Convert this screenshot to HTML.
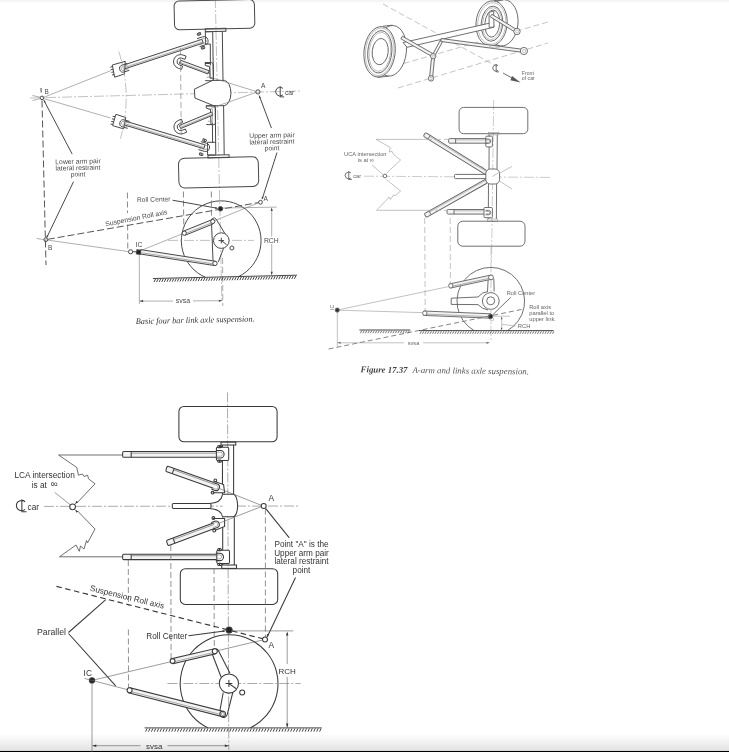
<!DOCTYPE html>
<html><head><meta charset="utf-8"><style>
html,body{margin:0;padding:0;background:#fff;width:729px;height:752px;overflow:hidden}
svg{display:block;position:absolute;left:0;top:0;will-change:transform;filter:blur(0.3px)}
.s{stroke:#484848;stroke-width:1.0;fill:none}
.wf{fill:#fff !important}
.gf{fill:#f3f3f3 !important}
.t{stroke:#7a7a7a;stroke-width:0.6;fill:none}
.d{stroke:#555;stroke-width:1.0;fill:none;stroke-dasharray:7 3}
.dv{stroke:#7a7a7a;stroke-width:0.9;fill:none;stroke-dasharray:6 3}
.dl{stroke:#888;stroke-width:0.7;fill:none;stroke-dasharray:6 3}
.cl{stroke:#999;stroke-width:0.6;fill:none;stroke-dasharray:10 2 2 2}
.ah{fill:#444;stroke:none}
.h{stroke:#444;stroke-width:1.0;fill:none}
.tx{font-family:"Liberation Sans",sans-serif;fill:#4a4a4a}
.cap{font-family:"Liberation Serif",serif;font-style:italic;fill:#333}
.s2{stroke:#606060;stroke-width:0.9;fill:none}
.t2{stroke:#999;stroke-width:0.6;fill:none}
.tx2{font-family:"Liberation Sans",sans-serif;fill:#666}
.dl2{stroke:#aaa;stroke-width:0.7;fill:none;stroke-dasharray:6 3}
.cl2{stroke:#aaa;stroke-width:0.6;fill:none;stroke-dasharray:10 2 2 2}
.d2{stroke:#777;stroke-width:0.9;fill:none;stroke-dasharray:5 3}
.ah2{fill:#555;stroke:none}
.h2{stroke:#666;stroke-width:0.9;fill:none}
.cap2{font-family:"Liberation Serif",serif;font-style:italic;fill:#555}
.s3{stroke:#3a3a3a;stroke-width:1.05;fill:none}
.t3{stroke:#666;stroke-width:0.65;fill:none}
.d3{stroke:#777;stroke-width:0.8;fill:none;stroke-dasharray:6 3}
.d3b{stroke:#333;stroke-width:1.1;fill:none;stroke-dasharray:5.5 3.5}
.cl3{stroke:#888;stroke-width:0.7;fill:none;stroke-dasharray:10 2 2 2}
.z3{stroke:#555;stroke-width:0.85;fill:none}
.h3{stroke:#444;stroke-width:1.0;fill:none}
.ah3{fill:#333;stroke:none}
.tx3{font-family:"Liberation Sans",sans-serif;fill:#333}
.cap2b{font-family:"Liberation Serif",serif;font-style:italic;font-weight:bold;fill:#444}
</style></head><body>
<div style="position:absolute;left:0;top:0;width:729px;height:3px;background:linear-gradient(#f2f2f2,#fdfdfd)"></div>
<div style="position:absolute;left:0;top:734px;width:729px;height:16px;background:linear-gradient(#fff,#e4e4e4)"></div>
<div style="position:absolute;left:0;top:750px;width:729px;height:1px;background:#d8d8d8"></div>
<div style="position:absolute;left:0;top:751px;width:729px;height:1px;background:#000"></div>
<svg width="729" height="752" viewBox="0 0 729 752">
<line x1="215.3" y1="-2" x2="221.8" y2="300" class="cl" />
<line x1="30" y1="98" x2="300" y2="91" class="cl" />
<rect x="174.3" y="0.3" width="80.3" height="28.7" rx="5" class="s" transform="rotate(-1.3 214.45 14.65)"/>
<rect x="205.3" y="28.4" width="20.6" height="3.1" rx="0" class="s" transform="rotate(-1.3 215.6 29.95)"/>
<line x1="212.7" y1="31.5" x2="213.4" y2="80.4" class="s" />
<line x1="222.3" y1="31.5" x2="223" y2="80.4" class="s" />
<path d="M212.4,80.4 L224.5,80.4 A7.2,12.7 0 0 1 224.2,105.7 L213.6,105.7 L194.9,98 L194.4,89.2 Z" class="s wf" />
<line x1="215.2" y1="105.7" x2="215.8" y2="154.8" class="s" />
<line x1="223.6" y1="105.7" x2="224.2" y2="154.8" class="s" />
<rect x="208" y="154.9" width="21.1" height="2.9" rx="0" class="s" transform="rotate(-1.3 218.55 156.35)"/>
<rect x="178.7" y="157.4" width="79.8" height="29.8" rx="6" class="s" transform="rotate(-1.3 218.6 172.3)"/>
<polyline points="212.7,31.6 205.3,31.8 205.6,44.2 210.3,44 210.4,65.4" class="s"/>
<polyline points="210.4,63.5 205,63.5 205.3,65.5 209.5,66.5 210,78.2 213.3,78.2" class="s"/>
<polyline points="215.2,105.8 206.2,105.8 206.2,108 210.5,109.5 211,124.5 212.4,124.5" class="s"/>
<line x1="212.4" y1="122.5" x2="212.6" y2="143" class="s" />
<polyline points="215.5,142.3 207.5,142.3 207.6,155 215.6,155" class="s"/>
<polygon points="122.82,69.5 203.22,43.1 201.98,39.3 121.58,65.7" class="s gf"/>
<line x1="122.42" y1="68.27" x2="202.82" y2="41.87" class="t" />
<polygon points="179.41,63.39 208.01,73.99 209.19,70.81 180.59,60.21" class="s gf"/>
<line x1="179.79" y1="62.36" x2="208.39" y2="72.96" class="t" />
<polygon points="122.43,124.42 203.93,148.72 205.07,144.88 123.57,120.58" class="s gf"/>
<line x1="122.8" y1="123.17" x2="204.3" y2="147.47" class="t" />
<polygon points="180.65,128.57 212.95,115.17 211.65,112.03 179.35,125.43" class="s gf"/>
<line x1="180.23" y1="127.55" x2="212.53" y2="114.15" class="t" />
<path d="M197,38.66L202.7,36.81A4.2,4.2 0 0 1 205.3,44.79L199.59,46.65" class="s" />
<path d="M197.58,40.46L203.29,38.6A2.31,2.31 0 0 1 204.71,43L199.01,44.85" class="t" />
<path d="M200.84,141.57L206.59,143.27A4.2,4.2 0 0 1 204.21,151.33L198.45,149.62" class="s" />
<path d="M200.3,143.38L206.06,145.09A2.31,2.31 0 0 1 204.74,149.51L198.99,147.81" class="t" />
<rect x="197.2" y="32.9" width="3.6" height="2.2" rx="1" class="s" transform="rotate(-18 199 34)"/>
<line x1="199" y1="32.9" x2="199" y2="35.1" class="s" />
<rect x="201.2" y="46.7" width="3.6" height="2.2" rx="1" class="s" transform="rotate(-18 203 47.8)"/>
<line x1="203" y1="46.7" x2="203" y2="48.9" class="s" />
<rect x="202.8" y="139.1" width="3.6" height="2.2" rx="1" class="s" transform="rotate(16 204.6 140.2)"/>
<line x1="204.6" y1="139.1" x2="204.6" y2="141.3" class="s" />
<rect x="199.4" y="153.1" width="3.6" height="2.2" rx="1" class="s" transform="rotate(16 201.2 154.2)"/>
<line x1="201.2" y1="153.1" x2="201.2" y2="155.3" class="s" />
<path d="M204.8,62.5 L211.5,62.6 Q213.2,62.8 213.2,65 L213.4,79 Q213.4,80.8 211.5,80.8 L205.2,80.6" class="s" />
<path d="M206.4,66.0 L210.4,66.2 L210.6,77.2 L206.6,77.2" class="t" />
<path d="M206.0,105.8 L213.5,106.0 Q215.4,106.2 215.4,108 L215.5,122.8 Q215.5,124.7 213.5,124.7 L206.2,124.5" class="s" />
<path d="M207.6,109.0 L212.4,109.2 L212.6,121.4 L207.8,121.2" class="t" />
<path d="M181.53,69.36L178.22,68.22A7,7 0 0 1 182.78,54.98L186.09,56.12" class="s" />
<path d="M182.64,66.14L179.33,65A3.6,3.6 0 0 1 181.67,58.2L184.98,59.34" class="s" />
<path d="M181.53,69.36L182.64,66.14" class="s" />
<path d="M186.09,56.12L184.98,59.34" class="s" />
<path d="M186.67,132.18L183.42,133.49A7,7 0 0 1 178.18,120.51L181.42,119.2" class="s" />
<path d="M185.39,129.03L182.15,130.34A3.6,3.6 0 0 1 179.45,123.66L182.7,122.35" class="s" />
<path d="M186.67,132.18L185.39,129.03" class="s" />
<path d="M181.42,119.2L182.7,122.35" class="s" />
<polygon points="112.3,65 125.3,61.3 124.4,74 114.6,77.2" class="s wf"/>
<polygon points="115.9,114.3 125.8,117.6 123.6,128.9 112.6,125.6" class="s wf"/>
<path d="M129.34,70.32L124.11,72.02A3.6,3.6 0 0 1 121.89,65.18L127.12,63.48" class="s" />
<path d="M128.84,68.78L123.61,70.48A1.98,1.98 0 0 1 122.39,66.72L127.62,65.02" class="t" />
<path d="M127.73,128.35L122.43,126.87A3.6,3.6 0 0 1 124.37,119.93L129.67,121.41" class="s" />
<path d="M128.16,126.79L122.87,125.31A1.98,1.98 0 0 1 123.93,121.49L129.23,122.97" class="t" />
<path d="M112.6,66.6 l-2.4,0.6 M113.2,69.2 l-2.4,0.6 M113.8,71.8 l-2.4,0.6 M114.4,74.4 l-2.4,0.6" class="s" />
<path d="M115.0,116.6 l-2.4,-0.3 M114.3,119.2 l-2.4,-0.3 M113.6,121.8 l-2.4,-0.3 M112.9,124.4 l-2.4,-0.3" class="s" />
<path d="M118.8,51.5 A148.8,148.8 0 0 1 120.4,138.8" class="cl" />
<line x1="180.5" y1="48" x2="181.2" y2="136" class="dl" />
<circle cx="42" cy="97.9" r="1.8" class="s"/>
<line x1="43.7" y1="97.3" x2="110.5" y2="70.8" class="t" />
<line x1="43.7" y1="98.5" x2="110.6" y2="118" class="t" />
<line x1="32.5" y1="95.5" x2="40.3" y2="97.3" class="t" />
<line x1="32.5" y1="100.5" x2="40.3" y2="98.6" class="t" />
<text x="44.6" y="93.6" font-size="6.4" text-anchor="start" class="tx" >B</text>
<circle cx="257.9" cy="91.9" r="2.1" class="s"/>
<line x1="255.9" y1="91.4" x2="209.5" y2="77" class="t" />
<line x1="255.9" y1="92.5" x2="210.5" y2="108.4" class="t" />
<text x="261" y="88.2" font-size="6.6" text-anchor="start" class="tx" >A</text>
<text x="285" y="95" font-size="6.6" text-anchor="start" class="tx" >car</text>
<path d="M282.94,88.33A4.4,4.4 0 1 0 282.94,94.87M280.22,86.32L280.22,96.88L284.18,96.88" class="s" />
<text x="272" y="137.6" font-size="6.8" text-anchor="middle" class="tx" transform="rotate(-1.3 272 137.6)" >Upper arm pair</text>
<text x="272" y="144" font-size="6.8" text-anchor="middle" class="tx" transform="rotate(-1.3 272 144)" >lateral restraint</text>
<text x="272" y="150.4" font-size="6.8" text-anchor="middle" class="tx" transform="rotate(-1.3 272 150.4)" >point</text>
<line x1="271.4" y1="128" x2="259.2" y2="95.6" class="s" />
<polygon points="259,95.2 260.92,97.68 259.23,98.32" class="ah"/>
<line x1="277" y1="152.5" x2="262.2" y2="199" class="s" />
<polygon points="261.8,199.6 261.87,196.47 263.58,197.02" class="ah"/>
<line x1="41" y1="88" x2="41.2" y2="92.5" class="s" />
<line x1="42" y1="100.5" x2="46" y2="265" class="d" />
<text x="78" y="163.7" font-size="6.8" text-anchor="middle" class="tx" transform="rotate(-1.3 78 163.7)" >Lower arm pair</text>
<text x="78" y="170.1" font-size="6.8" text-anchor="middle" class="tx" transform="rotate(-1.3 78 170.1)" >lateral restraint</text>
<text x="78" y="176.5" font-size="6.8" text-anchor="middle" class="tx" transform="rotate(-1.3 78 176.5)" >point</text>
<line x1="43.8" y1="100.2" x2="72.2" y2="154.1" class="s" />
<polygon points="43.6,99.8 45.8,102.03 44.2,102.87" class="ah"/>
<line x1="73.5" y1="181.7" x2="46.8" y2="237.5" class="s" />
<polygon points="46.4,238.2 46.88,235.1 48.5,235.88" class="ah"/>
<circle cx="45.8" cy="239.7" r="1.9" class="s"/>
<text x="48" y="249.6" font-size="6.6" text-anchor="start" class="tx" >B</text>
<line x1="47.8" y1="239.3" x2="258.5" y2="202.6" class="d" />
<circle cx="260.5" cy="202.3" r="1.9" class="s"/>
<text x="263.5" y="200.8" font-size="6.6" text-anchor="start" class="tx" >A</text>
<line x1="36.5" y1="238.5" x2="128.4" y2="251.6" class="t" />
<line x1="141" y1="250.5" x2="258.6" y2="202.8" class="t" />
<path d="M205.43,277.3A39.85,39.85 0 1 1 238.63,276.54" class="s" />
<line x1="168" y1="240.4" x2="254" y2="240.4" class="cl" />
<path d="M211.5,222.5 L213.0,260.5 M216.2,219.2 L228.8,240 M223.6,248.3 L218.3,262" class="s" />
<path d="M211.5,222.5 A2.6,2.6 0 0 1 216.2,219.2" class="s" />
<circle cx="221.3" cy="240.6" r="7.8" class="s wf"/>
<path d="M218.5,240.6 h5.6 M221.3,237.8 v5.6 M221.3,240.6 L226.6,244.6" class="s" />
<circle cx="231.9" cy="248" r="2" class="s"/>
<polygon points="185.12,235.24 213.12,223.94 211.48,219.86 183.48,231.16" class="s gf"/>
<line x1="184.59" y1="233.91" x2="212.59" y2="222.61" class="t" />
<circle cx="184.3" cy="233.2" r="2.1" class="s wf"/>
<circle cx="212.8" cy="221.5" r="2.1" class="s wf"/>
<polygon points="140.06,253.97 214.66,265.57 215.34,261.23 140.74,249.63" class="s gf"/>
<line x1="140.28" y1="252.56" x2="214.88" y2="264.16" class="t" />
<circle cx="215" cy="263.4" r="2.2" class="s wf"/>
<circle cx="130.6" cy="251.8" r="2.1" class="s wf"/>
<line x1="132.7" y1="251.8" x2="136.6" y2="251.8" class="s" />
<rect x="136.6" y="250" width="4" height="4.2" rx="0" class="s" transform="rotate(8 138.6 252.1)" style="fill:#222"/>
<text x="135.6" y="247.4" font-size="6.8" text-anchor="start" class="tx" >IC</text>
<line x1="127.4" y1="192.5" x2="127.5" y2="213" class="dv" />
<line x1="127.6" y1="224.5" x2="127.8" y2="249" class="dv" />
<line x1="183.4" y1="191.5" x2="183.8" y2="228" class="dv" />
<line x1="211.3" y1="191.5" x2="211.5" y2="218" class="dv" />
<line x1="222.6" y1="258" x2="222.8" y2="306" class="dl" />
<circle cx="220.5" cy="208.8" r="2.2" class="s" style="fill:#222"/>
<text x="137" y="202" font-size="6.7" text-anchor="start" class="tx" transform="rotate(-1.3 137 202)" >Roll Center</text>
<line x1="172.5" y1="200.2" x2="217" y2="208.2" class="s" />
<polygon points="218.3,208.4 214.98,208.78 215.32,206.89" class="ah"/>
<line x1="222.8" y1="208" x2="276.6" y2="207.1" class="t" />
<line x1="271.7" y1="208.5" x2="271.7" y2="236.5" class="t" />
<line x1="271.7" y1="244" x2="271.7" y2="274.5" class="t" />
<polygon points="271.7,207.6 272.75,211.1 270.65,211.1" class="ah"/>
<polygon points="271.7,275.3 270.65,271.8 272.75,271.8" class="ah"/>
<text x="271.3" y="242.7" font-size="6.8" text-anchor="middle" class="tx" >RCH</text>
<path d="M152.9,278.5 L297,275.2" class="s" />
<path d="M155.5,278.97L154,282.07M158.1,278.92L156.6,282.02M160.7,278.86L159.2,281.96M163.3,278.8L161.8,281.9M165.9,278.74L164.4,281.84M168.5,278.68L167,281.78M171.1,278.62L169.6,281.72M173.7,278.56L172.2,281.66M176.3,278.5L174.8,281.6M178.9,278.44L177.4,281.54M181.5,278.38L180,281.48M184.1,278.32L182.6,281.42M186.7,278.26L185.2,281.36M189.3,278.2L187.8,281.3M191.9,278.14L190.4,281.24M194.5,278.08L193,281.18M197.1,278.02L195.6,281.12M199.7,277.96L198.2,281.06M202.3,277.9L200.8,281M204.9,277.84L203.4,280.94M207.5,277.78L206,280.88M210.1,277.72L208.6,280.82M212.7,277.66L211.2,280.76M215.3,277.61L213.8,280.71M217.9,277.55L216.4,280.65M220.5,277.49L219,280.59M223.1,277.43L221.6,280.53M225.7,277.37L224.2,280.47M228.3,277.31L226.8,280.41M230.9,277.25L229.4,280.35M233.5,277.19L232,280.29M236.1,277.13L234.6,280.23M238.7,277.07L237.2,280.17M241.3,277.01L239.8,280.11M243.9,276.95L242.4,280.05M246.5,276.89L245,279.99M249.1,276.83L247.6,279.93M251.7,276.77L250.2,279.87M254.3,276.71L252.8,279.81M256.9,276.65L255.4,279.75M259.5,276.59L258,279.69M262.1,276.53L260.6,279.63M264.7,276.47L263.2,279.57M267.3,276.41L265.8,279.51M269.9,276.36L268.4,279.46M272.5,276.3L271,279.4M275.1,276.24L273.6,279.34M277.7,276.18L276.2,279.28M280.3,276.12L278.8,279.22M282.9,276.06L281.4,279.16M285.5,276L284,279.1M288.1,275.94L286.6,279.04M290.7,275.88L289.2,278.98M293.3,275.82L291.8,278.92M295.9,275.76L294.4,278.86" class="h" />
<line x1="139.3" y1="254.5" x2="139.4" y2="304" class="t" />
<line x1="139.6" y1="301.1" x2="173" y2="301.1" class="t" />
<line x1="193" y1="300.9" x2="222.4" y2="300.7" class="t" />
<polygon points="139.6,301.1 143.1,300.05 143.1,302.15" class="ah"/>
<polygon points="222.4,300.7 218.9,301.75 218.9,299.65" class="ah"/>
<text x="183" y="302.8" font-size="7" text-anchor="middle" class="tx" >svsa</text>
<text x="105.8" y="226.3" font-size="6.8" text-anchor="start" class="tx" transform="rotate(-11.2 105.8 226.3)" >Suspension Roll axis</text>
<text x="135.8" y="324" font-size="8.3" text-anchor="start" class="cap" transform="rotate(-1.2 135.8 324)" >Basic four bar link axle suspension.</text>
<line x1="383" y1="4" x2="497" y2="66.5" class="dl2" />
<line x1="503" y1="73" x2="513" y2="78.6" class="s2" />
<polygon points="520.5,82.6 512,76 510.5,80.2" class="ah2"/>
<line x1="395" y1="66" x2="548" y2="22" class="dl2" />
<line x1="398" y1="88" x2="548" y2="43" class="dl2" />
<ellipse cx="390.8" cy="50.8" rx="15.6" ry="25.4" class="s2 wf" transform="rotate(6 390.8 50.8)"/>
<path d="M383,26.2 L392.5,25.2 M377.5,77.4 L388.5,76.2" class="s2" />
<ellipse cx="379.6" cy="51.8" rx="15.6" ry="25.3" class="s2 wf" transform="rotate(6 379.6 51.8)"/>
<ellipse cx="379.7" cy="51.8" rx="14.2" ry="23.8" class="t2" transform="rotate(6 379.7 51.8)"/>
<ellipse cx="379.8" cy="51.8" rx="12" ry="21.2" class="s2" transform="rotate(6 379.8 51.8)"/>
<ellipse cx="379.9" cy="51.8" rx="10.8" ry="19.6" class="t2" transform="rotate(6 379.9 51.8)"/>
<ellipse cx="380.2" cy="51.6" rx="8" ry="13.2" class="s2" transform="rotate(6 380.2 51.6)"/>
<ellipse cx="502.6" cy="22.8" rx="15.4" ry="23.2" class="s2 wf" transform="rotate(5 502.6 22.8)"/>
<path d="M494,0.6 L503,0 M489.5,46.2 L499,45.8" class="s2" />
<ellipse cx="491.6" cy="23.4" rx="15.6" ry="22.6" class="s2 wf" transform="rotate(5 491.6 23.4)"/>
<ellipse cx="491.8" cy="23.5" rx="14" ry="20.8" class="t2" transform="rotate(5 491.8 23.5)"/>
<ellipse cx="492" cy="23.7" rx="10.8" ry="17.6" class="s2" transform="rotate(5 492 23.7)"/>
<ellipse cx="492.1" cy="23.7" rx="9.6" ry="16" class="t2" transform="rotate(5 492.1 23.7)"/>
<ellipse cx="492.3" cy="23.6" rx="7.4" ry="13.6" class="s2" transform="rotate(5 492.3 23.6)"/>
<polygon points="403,42.5 493,22.4 494,27.2 407.1,47.3" class="s2 wf"/>
<polygon points="489,12.3 493.7,11 494,27 489.2,27.5" class="s2 wf"/>
<polygon points="400.86,38.8 432.46,56.8 433.94,54.2 402.34,36.2" class="s2 gf"/>
<polygon points="431.71,56.05 429.51,78.05 432.49,78.35 434.69,56.35" class="s2 gf"/>
<polygon points="434.34,56.82 442.54,41.62 440.26,40.38 432.06,55.58" class="s2 gf"/>
<polygon points="440.8,41.49 523.7,52.49 524.1,49.51 441.2,38.51" class="s2 gf"/>
<polygon points="490.21,16.78 516.21,32.78 517.79,30.22 491.79,14.22" class="s2 gf"/>
<circle cx="433.2" cy="56.2" r="2.7" class="s2 wf"/>
<circle cx="433.4" cy="56.2" r="1.2" class="t2"/>
<circle cx="431" cy="78.4" r="2.7" class="s2 wf"/>
<circle cx="431.2" cy="78.4" r="1.2" class="t2"/>
<circle cx="517" cy="31.5" r="3.2" class="s2 wf"/>
<circle cx="517.2" cy="31.5" r="1.4" class="t2"/>
<circle cx="523.9" cy="51" r="3.6" class="s2 wf"/>
<circle cx="524.1" cy="51" r="1.6" class="t2"/>
<path d="M489,46.6 Q494.5,49.5 500,46.8" class="t2" />
<path d="M498.14,65.62A3.2,3.2 0 1 0 498.14,70.38M496.16,64.16L496.16,71.84L499.04,71.84" class="s2" />
<text x="521.8" y="74.6" font-size="5.2" text-anchor="start" class="tx2" >Front</text>
<text x="521.8" y="80" font-size="5.2" text-anchor="start" class="tx2" >of car</text>
<line x1="364" y1="176.2" x2="551" y2="177.4" class="cl2" />
<line x1="493.7" y1="100" x2="491.5" y2="262" class="cl2" />
<rect x="459.1" y="107.4" width="68.7" height="26.3" rx="4.5" class="s2"/>
<rect x="488.3" y="132.6" width="10.7" height="2.3" rx="0" class="t2"/>
<line x1="489.2" y1="134.9" x2="489" y2="169.5" class="s2" />
<line x1="497.3" y1="134.9" x2="497" y2="169.5" class="s2" />
<line x1="488.5" y1="182.3" x2="488.3" y2="219" class="s2" />
<line x1="496.6" y1="182.3" x2="496.4" y2="219" class="s2" />
<rect x="487.4" y="219" width="9.9" height="2.2" rx="0" class="t2"/>
<rect x="457.8" y="221.2" width="67.2" height="25" rx="5" class="s2"/>
<rect x="418.92" y="151.4" width="73.07" height="4.3" rx="1.3" class="s2 gf" transform="rotate(31.8 455.45 153.55)"/>
<line x1="427.94" y1="139.03" x2="430.21" y2="135.37" class="s2" />
<line x1="429.57" y1="136.39" x2="487" y2="172" class="t2" />
<rect x="420.65" y="196.15" width="70.39" height="4.3" rx="1.3" class="s2 gf" transform="rotate(-29.44 455.85 198.3)"/>
<line x1="431.05" y1="214.77" x2="428.93" y2="211.02" class="s2" />
<line x1="429.52" y1="212.07" x2="486.04" y2="180.18" class="t2" />
<rect x="448.6" y="138.6" width="39.4" height="4.6" rx="1.3" class="s2 gf" transform="rotate(0 468.3 140.9)"/>
<line x1="455.6" y1="143.2" x2="455.6" y2="138.6" class="s2" />
<line x1="455.6" y1="139.89" x2="488" y2="139.89" class="t2" />
<rect x="447" y="209.5" width="41" height="4.6" rx="1.3" class="s2 gf" transform="rotate(0 467.5 211.8)"/>
<line x1="454" y1="214.1" x2="454" y2="209.5" class="s2" />
<line x1="454" y1="210.79" x2="488" y2="210.79" class="t2" />
<rect x="454.5" y="174.4" width="32.5" height="4.2" rx="1" class="s2 wf"/>
<rect x="485.8" y="136.2" width="6.6" height="10.7" rx="1" class="s2 wf"/>
<rect x="484" y="207.5" width="8.4" height="10.2" rx="1" class="s2 wf"/>
<path d="M485.5,139L488.5,139A2.2,2.2 0 0 1 488.5,143.4L485.5,143.4" class="s2" />
<path d="M485.5,139.99L488.5,139.99A1.21,1.21 0 0 1 488.5,142.41L485.5,142.41" class="t" />
<path d="M485.5,210.4L488.5,210.4A2.2,2.2 0 0 1 488.5,214.8L485.5,214.8" class="s2" />
<path d="M485.5,211.39L488.5,211.39A1.21,1.21 0 0 1 488.5,213.81L485.5,213.81" class="t" />
<rect x="485.8" y="169" width="13.8" height="15" rx="4.5" class="s2 wf"/>
<line x1="499.8" y1="173" x2="512" y2="166.4" class="t2" />
<line x1="499.8" y1="181.2" x2="512" y2="189" class="t2" />
<line x1="486" y1="170" x2="481" y2="166" class="t2" />
<line x1="492.4" y1="176.5" x2="500" y2="172" class="t2" />
<polyline points="426,139.4 376,139.4 390.4,147.6 389.2,152 392,151.3 393.8,154.8 400.6,160 386.5,173.2" class="t2"/>
<polyline points="426,210.3 376.5,210.3 389.2,197 390.5,199.5 393.5,195 395,195.8 400.6,191 386.5,179.6" class="t2"/>
<line x1="426" y1="139.4" x2="448.7" y2="139.4" class="dl2" />
<line x1="426" y1="210.3" x2="447" y2="210.3" class="dl2" />
<circle cx="384.9" cy="176" r="1.8" class="s2 wf"/>
<line x1="372" y1="165" x2="383.3" y2="174.7" class="t2" />
<text x="365.3" y="155.6" font-size="5.7" text-anchor="middle" class="tx2" >UCA intersection</text>
<text x="365.8" y="162.2" font-size="5.7" text-anchor="middle" class="tx2" >is at ∞</text>
<text x="353.2" y="177.6" font-size="5.7" text-anchor="start" class="tx2" >car</text>
<path d="M350.88,172.87A3.4,3.4 0 1 0 350.88,177.93M348.77,171.32L348.77,179.48L351.83,179.48" class="s2" />
<line x1="424.7" y1="218" x2="425.2" y2="311" class="dl2" />
<line x1="450.2" y1="218" x2="450.4" y2="285" class="dl2" />
<line x1="491" y1="246" x2="491" y2="340" class="cl2" />
<path d="M474.12,330.6A33.8,33.8 0 1 1 507.48,330.6" class="s2" />
<path d="M451.2,298.2 L478,297 Q482,292 488,291.5 M451.2,304.4 L478,304.6 Q482,309 488,310" class="s2" />
<line x1="451.2" y1="298.2" x2="451.2" y2="304.4" class="s2" />
<path d="M487.5,291.5 L488.2,278.5 M494.2,291.5 L493.8,278.5" class="s2" />
<circle cx="490.8" cy="301" r="8.4" class="s2 wf"/>
<circle cx="490.7" cy="300.8" r="4" class="s2"/>
<polygon points="450.34,288.05 491.44,279.25 490.56,275.15 449.46,283.95" class="s2 gf"/>
<line x1="450.05" y1="286.72" x2="491.15" y2="277.92" class="t" />
<circle cx="450.8" cy="285.8" r="2.2" class="s2 wf"/>
<circle cx="491" cy="277.4" r="2.4" class="s2 wf"/>
<polygon points="423.61,315.4 490.41,318.2 490.59,313.8 423.79,311" class="s2 gf"/>
<line x1="423.67" y1="313.97" x2="490.47" y2="316.77" class="t" />
<circle cx="424.8" cy="313.2" r="2.2" class="s2 wf"/>
<circle cx="491.8" cy="319.2" r="1.8" class="t2"/>
<circle cx="490.5" cy="316.4" r="2.2" class="s2" style="fill:#222"/>
<circle cx="337.3" cy="310.1" r="2.1" class="s2" style="fill:#333"/>
<line x1="339" y1="309.7" x2="448.5" y2="286.6" class="t2" />
<line x1="339" y1="310.2" x2="422" y2="312.6" class="t2" />
<text x="334.2" y="307.5" font-size="5" text-anchor="middle" class="tx2" transform="rotate(-90 334.2 307.5)" >IC</text>
<line x1="328.6" y1="349" x2="522.3" y2="309.3" class="d2" />
<line x1="359.4" y1="330" x2="410.3" y2="330" class="s" />
<path d="M361.8,330.6L360.4,333.2M364.3,330.6L362.9,333.2M366.8,330.6L365.4,333.2M369.3,330.6L367.9,333.2M371.8,330.6L370.4,333.2M374.3,330.6L372.9,333.2M376.8,330.6L375.4,333.2M379.3,330.6L377.9,333.2M381.8,330.6L380.4,333.2M384.3,330.6L382.9,333.2M386.8,330.6L385.4,333.2M389.3,330.6L387.9,333.2M391.8,330.6L390.4,333.2M394.3,330.6L392.9,333.2M396.8,330.6L395.4,333.2M399.3,330.6L397.9,333.2M401.8,330.6L400.4,333.2M404.3,330.6L402.9,333.2M406.8,330.6L405.4,333.2M409.3,330.6L407.9,333.2" class="h2" />
<line x1="419" y1="330.6" x2="553.6" y2="330.6" class="s" />
<path d="M421.4,331.2L420,333.8M423.9,331.2L422.5,333.8M426.4,331.2L425,333.8M428.9,331.2L427.5,333.8M431.4,331.2L430,333.8M433.9,331.2L432.5,333.8M436.4,331.2L435,333.8M438.9,331.2L437.5,333.8M441.4,331.2L440,333.8M443.9,331.2L442.5,333.8M446.4,331.2L445,333.8M448.9,331.2L447.5,333.8M451.4,331.2L450,333.8M453.9,331.2L452.5,333.8M456.4,331.2L455,333.8M458.9,331.2L457.5,333.8M461.4,331.2L460,333.8M463.9,331.2L462.5,333.8M466.4,331.2L465,333.8M468.9,331.2L467.5,333.8M471.4,331.2L470,333.8M473.9,331.2L472.5,333.8M476.4,331.2L475,333.8M478.9,331.2L477.5,333.8M481.4,331.2L480,333.8M483.9,331.2L482.5,333.8M486.4,331.2L485,333.8M488.9,331.2L487.5,333.8M491.4,331.2L490,333.8M493.9,331.2L492.5,333.8M496.4,331.2L495,333.8M498.9,331.2L497.5,333.8M501.4,331.2L500,333.8M503.9,331.2L502.5,333.8M506.4,331.2L505,333.8M508.9,331.2L507.5,333.8M511.4,331.2L510,333.8M513.9,331.2L512.5,333.8M516.4,331.2L515,333.8M518.9,331.2L517.5,333.8M521.4,331.2L520,333.8M523.9,331.2L522.5,333.8M526.4,331.2L525,333.8M528.9,331.2L527.5,333.8M531.4,331.2L530,333.8M533.9,331.2L532.5,333.8M536.4,331.2L535,333.8M538.9,331.2L537.5,333.8M541.4,331.2L540,333.8M543.9,331.2L542.5,333.8M546.4,331.2L545,333.8M548.9,331.2L547.5,333.8M551.4,331.2L550,333.8M553.9,331.2L552.5,333.8" class="h2" />
<line x1="337.3" y1="312" x2="337.3" y2="347" class="t2" />
<line x1="337.3" y1="342.8" x2="404" y2="342.8" class="t2" />
<line x1="423" y1="342.8" x2="489.5" y2="342.8" class="t2" />
<polygon points="337.6,342.8 340.6,341.9 340.6,343.7" class="ah2"/>
<polygon points="489.5,342.8 486.5,343.7 486.5,341.9" class="ah2"/>
<text x="413.5" y="345" font-size="5.6" text-anchor="middle" class="tx2" >svsa</text>
<text x="506.7" y="295.2" font-size="5.7" text-anchor="start" class="tx2" >Roll Center</text>
<line x1="510.5" y1="297.5" x2="492.5" y2="315" class="s2" />
<text x="529.2" y="309.3" font-size="5.8" text-anchor="start" class="tx2" >Roll axis</text>
<text x="529.2" y="314.9" font-size="5.8" text-anchor="start" class="tx2" >parallel to</text>
<text x="529.2" y="320.5" font-size="5.8" text-anchor="start" class="tx2" >upper link.</text>
<line x1="492.8" y1="316.2" x2="510" y2="316.2" class="t2" />
<line x1="501.7" y1="317" x2="501.7" y2="330.5" class="t2" />
<polygon points="501.7,316.6 502.48,319.2 500.92,319.2" class="ah2"/>
<polygon points="501.7,330.3 500.92,327.7 502.48,327.7" class="ah2"/>
<text x="517.8" y="328" font-size="5.8" text-anchor="start" class="tx2" >RCH</text>
<line x1="502" y1="324.3" x2="515.5" y2="326.1" class="t2" />
<text x="360.6" y="372.3" font-size="8.8" text-anchor="start" class="cap2b" transform="rotate(0.7 360.6 372.3)" >Figure 17.37</text>
<text x="412.4" y="373" font-size="8.8" text-anchor="start" class="cap2" transform="rotate(0.7 412.4 373)" >A-arm and links axle suspension.</text>
<line x1="227.5" y1="392.4" x2="228.8" y2="750" class="cl3" />
<line x1="44" y1="506.4" x2="300" y2="506" class="cl3" />
<rect x="178.9" y="406.4" width="98.2" height="35.4" rx="5" class="s3"/>
<rect x="221" y="442.1" width="14.8" height="2.9" rx="0" class="s3"/>
<line x1="222.4" y1="445" x2="222.5" y2="494.5" class="s3" />
<line x1="233.6" y1="445" x2="233.6" y2="494.5" class="s3" />
<line x1="222.7" y1="517.5" x2="222.7" y2="565" class="s3" />
<line x1="234.3" y1="517.5" x2="234.3" y2="565" class="s3" />
<rect x="221.7" y="565" width="14.8" height="3.4" rx="0" class="s3"/>
<rect x="180.3" y="568.7" width="97.4" height="35.7" rx="5" class="s3"/>
<path d="M222.6,494.3 L233.2,494.3 A4.4,11.25 0 0 1 233.2,516.8 L222.6,516.8" class="s3 wf" />
<path d="M222.6,494.3 Q221,503.2 209.4,503.4 M209.4,508.4 Q221,508.8 222.6,516.8" class="s3" />
<rect x="122.6" y="451.5" width="96.4" height="5.8" rx="1.4" class="s3 gf" transform="rotate(0 170.8 454.4)"/>
<line x1="131.2" y1="457.3" x2="131.2" y2="451.5" class="s3" />
<line x1="131.2" y1="453.12" x2="219" y2="453.12" class="t3" />
<rect x="122.6" y="554.2" width="96.4" height="5.4" rx="1.4" class="s3 gf" transform="rotate(0 170.8 556.9)"/>
<line x1="131.2" y1="559.6" x2="131.2" y2="554.2" class="s3" />
<line x1="131.2" y1="555.71" x2="219" y2="555.71" class="t3" />
<rect x="172.3" y="503.4" width="38.7" height="5" rx="1.2" class="s3 wf"/>
<rect x="164.85" y="474.8" width="53.71" height="5.6" rx="1.4" class="s3 gf" transform="rotate(19.58 191.7 477.6)"/>
<line x1="172.25" y1="473.65" x2="174.12" y2="468.38" class="s3" />
<line x1="173.6" y1="469.85" x2="217.41" y2="485.44" class="t3" />
<rect x="165.5" y="531" width="53.7" height="5.6" rx="1.4" class="s3 gf" transform="rotate(-20.49 192.35 533.8)"/>
<line x1="174.92" y1="543.3" x2="172.96" y2="538.06" class="s3" />
<line x1="173.51" y1="539.53" x2="217.07" y2="523.25" class="t3" />
<polyline points="222.6,446.5 219.5,446.5 219.5,460.8 222.6,460.8" class="s3"/>
<rect x="216.4" y="447.2" width="12.3" height="13.2" rx="1.2" class="s3 wf"/>
<path d="M216.4,450.5L220.4,450.5A3.7,3.7 0 0 1 220.4,457.9L216.4,457.9" class="s3" />
<path d="M216.4,452.16L220.4,452.16A2.04,2.04 0 0 1 220.4,456.24L216.4,456.24" class="t" />
<rect x="216.8" y="550.3" width="12.7" height="13.2" rx="1.2" class="s3 wf"/>
<path d="M215.8,553.2L219.8,553.2A3.7,3.7 0 0 1 219.8,560.6L215.8,560.6" class="s3" />
<path d="M215.8,554.87L219.8,554.87A2.04,2.04 0 0 1 219.8,558.93L215.8,558.93" class="t" />
<path d="M214,481.2 L223.6,484.6 L224.6,492.8 L212.6,492.8" class="s3 wf" />
<path d="M212.6,518.4 L224.6,518.4 L224.6,526.4 L215.2,530.2" class="s3 wf" />
<path d="M213.57,482.66L217.34,484A3.4,3.4 0 0 1 215.06,490.4L211.29,489.06" class="s3" />
<path d="M213.06,484.1L216.83,485.44A1.87,1.87 0 0 1 215.57,488.96L211.8,487.62" class="t" />
<path d="M211.06,522.62L214.8,521.22A3.4,3.4 0 0 1 217.2,527.58L213.45,528.99" class="s3" />
<path d="M211.6,524.06L215.34,522.65A1.87,1.87 0 0 1 216.66,526.15L212.91,527.56" class="t" />
<circle cx="215.3" cy="480.4" r="1.4" class="s3"/>
<circle cx="212.6" cy="492.6" r="1.4" class="s3"/>
<circle cx="213.4" cy="518" r="1.4" class="s3"/>
<circle cx="214.2" cy="530.6" r="1.4" class="s3"/>
<rect x="217.7" y="445.5" width="3.6" height="2.2" rx="1" class="s3"/>
<line x1="219.5" y1="445.5" x2="219.5" y2="447.7" class="s3" />
<rect x="217.7" y="460.1" width="3.6" height="2.2" rx="1" class="s3"/>
<line x1="219.5" y1="460.1" x2="219.5" y2="462.3" class="s3" />
<rect x="217.7" y="548.5" width="3.6" height="2.2" rx="1" class="s3"/>
<line x1="219.5" y1="548.5" x2="219.5" y2="550.7" class="s3" />
<rect x="217.7" y="563.2" width="3.6" height="2.2" rx="1" class="s3"/>
<line x1="219.5" y1="563.2" x2="219.5" y2="565.4" class="s3" />
<circle cx="263.7" cy="505.9" r="2.5" class="s3 wf"/>
<text x="268.4" y="501.4" font-size="8.4" text-anchor="start" class="tx3" >A</text>
<line x1="261.3" y1="505.3" x2="219.5" y2="488.6" class="t3" />
<line x1="261.3" y1="506.6" x2="219.5" y2="523" class="t3" />
<polyline points="123,455 58.6,455 76.8,467.5 78.4,475.2 82.5,474 84,476.5 87.6,475.2 88.5,478.8 95,483.8 77.6,502.3" class="z3"/>
<polyline points="123,556.8 59.5,556.8 76,545 79.3,551.3 80.5,546 84,549 86.5,540.5 87.5,543 95,529 77.6,511" class="z3"/>
<polygon points="74.9,504.2 76.57,500.83 78.15,502.3" class="ah3"/>
<polygon points="74.9,509.5 78.18,511.34 76.62,512.84" class="ah3"/>
<circle cx="72.6" cy="506.8" r="2.9" class="s3 wf"/>
<line x1="54.7" y1="492.4" x2="70.5" y2="505" class="t3" />
<text x="14.4" y="478.2" font-size="8.3" text-anchor="start" class="tx3" >LCA intersection</text>
<text x="31.7" y="487.6" font-size="8.3" text-anchor="start" class="tx3" >is at</text>
<text x="50.8" y="487.2" font-size="9.5" text-anchor="start" class="tx3" >∞</text>
<text x="27.6" y="509.6" font-size="8.3" text-anchor="start" class="tx3" >car</text>
<path d="M25.08,501.74A5.2,5.2 0 1 0 25.08,509.46M21.86,499.36L21.86,511.84L26.54,511.84" class="s3" />
<line x1="128.3" y1="560" x2="128.4" y2="605.5" class="d3" />
<line x1="128.4" y1="629.5" x2="128.5" y2="690" class="d3" />
<line x1="170.8" y1="545" x2="171.1" y2="662" class="d3" />
<line x1="214" y1="568" x2="214.3" y2="650" class="d3" />
<line x1="265.4" y1="508.5" x2="265.4" y2="637.5" class="d3" />
<text x="301.5" y="547.3" font-size="8.2" text-anchor="middle" class="tx3" >Point "A" is the</text>
<text x="301.5" y="555.8" font-size="8.2" text-anchor="middle" class="tx3" >Upper arm pair</text>
<text x="301.5" y="564.3" font-size="8.2" text-anchor="middle" class="tx3" >lateral restraint</text>
<text x="301.5" y="572.8" font-size="8.2" text-anchor="middle" class="tx3" >point</text>
<line x1="265.6" y1="508.4" x2="289.3" y2="537.9" class="s3" />
<line x1="295.5" y1="577.5" x2="267.3" y2="636.8" class="s3" />
<polygon points="266.6,637.5 267.06,633.88 268.98,634.73" class="ah3"/>
<line x1="56.5" y1="586.4" x2="226" y2="629.4" class="d3b" />
<line x1="232" y1="630.9" x2="263" y2="638.8" class="d3b" />
<text x="89.6" y="590.6" font-size="8.2" text-anchor="start" class="tx3" transform="rotate(13.8 89.6 590.6)" >Suspension Roll axis</text>
<text x="37" y="635.2" font-size="8.7" text-anchor="start" class="tx3" >Parallel</text>
<line x1="68.5" y1="632.5" x2="105.8" y2="599.6" class="s3" />
<line x1="68.5" y1="633.5" x2="115.7" y2="685.8" class="s3" />
<circle cx="229.1" cy="630.1" r="3" class="s3" style="fill:#222"/>
<text x="146.3" y="638.8" font-size="8.2" text-anchor="start" class="tx3" >Roll Center</text>
<line x1="188.5" y1="635.8" x2="224.5" y2="631" class="s3" />
<polygon points="226,630.8 222.67,632.3 222.39,630.22" class="ah3"/>
<circle cx="265" cy="639.5" r="2.5" class="s3 wf"/>
<text x="268.4" y="647.8" font-size="8.4" text-anchor="start" class="tx3" >A</text>
<circle cx="92" cy="680.4" r="2.6" class="s3" style="fill:#222"/>
<text x="83.6" y="676" font-size="8.3" text-anchor="start" class="tx3" >IC</text>
<line x1="94.5" y1="679.8" x2="262.6" y2="640" class="t3" />
<line x1="84.7" y1="678.5" x2="128" y2="689.8" class="t3" />
<path d="M208.18,727.9A48.9,48.9 0 1 1 250.02,727.9" class="s3" />
<line x1="167.4" y1="683.5" x2="300.7" y2="683.5" class="cl3" />
<path d="M212.5,654.7 L221.2,677.3 M218.2,650.2 L230,673.3" class="s3" />
<path d="M223.2,692.5 L219.6,712.3 M232.9,692 L227.2,714.6" class="s3" />
<path d="M212.5,654.7 A3.4,3.4 0 0 1 218.2,650.2" class="s3" />
<path d="M219.6,712.3 A3.6,3.6 0 0 0 227.2,714.6" class="s3" />
<circle cx="228.9" cy="683.5" r="9.6" class="s3 wf"/>
<path d="M225.5,683.5 h6.8 M228.9,680.1 v6.8 M229,683.6 L236.3,688.7" class="s3" />
<circle cx="242.2" cy="692.5" r="2.5" class="s3"/>
<polygon points="172.89,663.73 215.39,653.83 214.21,648.77 171.71,658.67" class="s3 gf"/>
<line x1="172.51" y1="662.09" x2="215.01" y2="652.19" class="t" />
<circle cx="172.6" cy="661" r="2.4" class="s3 wf"/>
<circle cx="214.8" cy="651.3" r="2.5" class="s3 wf"/>
<polygon points="128.36,692.72 222.06,716.52 223.34,711.48 129.64,687.68" class="s3 gf"/>
<line x1="128.78" y1="691.08" x2="222.48" y2="714.88" class="t" />
<circle cx="129.6" cy="690.3" r="2.5" class="s3 wf"/>
<circle cx="222.7" cy="714" r="2.8" class="s3 wf"/>
<circle cx="222.7" cy="714" r="1.6" class="t3"/>
<line x1="231.6" y1="630.9" x2="293.3" y2="630.9" class="t3" />
<line x1="287.2" y1="633" x2="287.2" y2="664" class="t3" />
<line x1="287.2" y1="677" x2="287.2" y2="727.5" class="t3" />
<polygon points="287.2,631.4 288.4,635.4 286,635.4" class="ah3"/>
<polygon points="287.2,727.6 286,723.6 288.4,723.6" class="ah3"/>
<text x="287.2" y="673.8" font-size="8" text-anchor="middle" class="tx3" >RCH</text>
<line x1="144.6" y1="727.9" x2="321.7" y2="727.9" class="s" />
<path d="M147,728.5L145.6,731.7M149.9,728.5L148.5,731.7M152.8,728.5L151.4,731.7M155.7,728.5L154.3,731.7M158.6,728.5L157.2,731.7M161.5,728.5L160.1,731.7M164.4,728.5L163,731.7M167.3,728.5L165.9,731.7M170.2,728.5L168.8,731.7M173.1,728.5L171.7,731.7M176,728.5L174.6,731.7M178.9,728.5L177.5,731.7M181.8,728.5L180.4,731.7M184.7,728.5L183.3,731.7M187.6,728.5L186.2,731.7M190.5,728.5L189.1,731.7M193.4,728.5L192,731.7M196.3,728.5L194.9,731.7M199.2,728.5L197.8,731.7M202.1,728.5L200.7,731.7M205,728.5L203.6,731.7M207.9,728.5L206.5,731.7M210.8,728.5L209.4,731.7M213.7,728.5L212.3,731.7M216.6,728.5L215.2,731.7M219.5,728.5L218.1,731.7M222.4,728.5L221,731.7M225.3,728.5L223.9,731.7M228.2,728.5L226.8,731.7M231.1,728.5L229.7,731.7M234,728.5L232.6,731.7M236.9,728.5L235.5,731.7M239.8,728.5L238.4,731.7M242.7,728.5L241.3,731.7M245.6,728.5L244.2,731.7M248.5,728.5L247.1,731.7M251.4,728.5L250,731.7M254.3,728.5L252.9,731.7M257.2,728.5L255.8,731.7M260.1,728.5L258.7,731.7M263,728.5L261.6,731.7M265.9,728.5L264.5,731.7M268.8,728.5L267.4,731.7M271.7,728.5L270.3,731.7M274.6,728.5L273.2,731.7M277.5,728.5L276.1,731.7M280.4,728.5L279,731.7M283.3,728.5L281.9,731.7M286.2,728.5L284.8,731.7M289.1,728.5L287.7,731.7M292,728.5L290.6,731.7M294.9,728.5L293.5,731.7M297.8,728.5L296.4,731.7M300.7,728.5L299.3,731.7M303.6,728.5L302.2,731.7M306.5,728.5L305.1,731.7M309.4,728.5L308,731.7M312.3,728.5L310.9,731.7M315.2,728.5L313.8,731.7M318.1,728.5L316.7,731.7M321,728.5L319.6,731.7" class="h3" />
<line x1="92" y1="683" x2="92" y2="752" class="t3" />
<line x1="92.5" y1="745.7" x2="140.5" y2="745.7" class="t3" />
<line x1="167.5" y1="745.7" x2="229.1" y2="745.7" class="t3" />
<polygon points="92.3,745.7 96.3,744.5 96.3,746.9" class="ah3"/>
<polygon points="228.8,745.7 224.8,746.9 224.8,744.5" class="ah3"/>
<text x="154.2" y="748.5" font-size="8" text-anchor="middle" class="tx3" >svsa</text>
</svg>
</body></html>
